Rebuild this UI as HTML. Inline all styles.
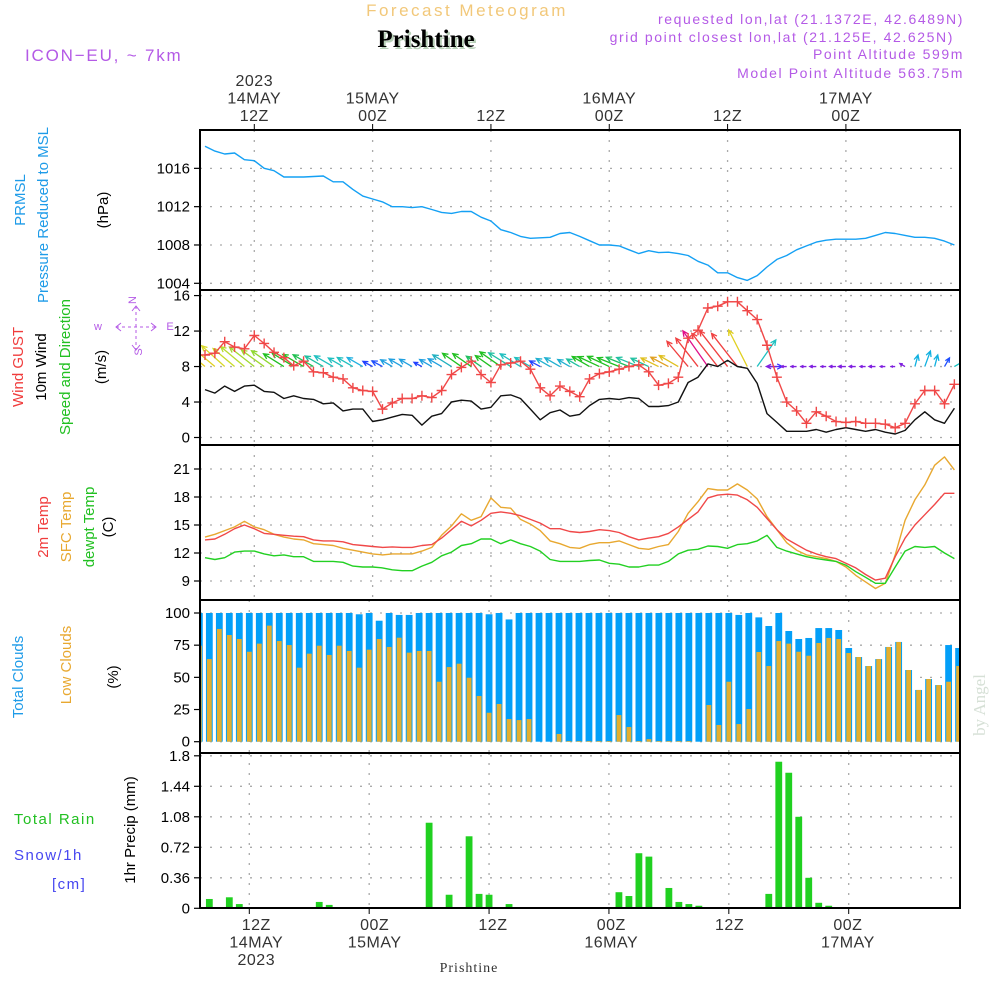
<!DOCTYPE html>
<html><head><meta charset="utf-8"><style>
body{margin:0;background:#fff;}
svg{display:block;font-family:"Liberation Sans",sans-serif;}
</style></head><body>
<svg id="chart" width="1000" height="1000" viewBox="0 0 1000 1000" xmlns="http://www.w3.org/2000/svg">
<rect width="1000" height="1000" fill="#fff"/>
<g id="hdr">
<text x="467" y="16" text-anchor="middle" fill="#f2c87a" font-size="17" letter-spacing="2.5">Forecast Meteogram</text>
<text x="428" y="49" text-anchor="middle" fill="#b8d0b8" font-size="25" font-weight="bold" font-family="Liberation Serif,serif">Prishtine</text>
<text x="426" y="47" text-anchor="middle" fill="#000" font-size="25" font-weight="bold" font-family="Liberation Serif,serif">Prishtine</text>
<text x="25" y="61" fill="#b45ae6" font-size="17" letter-spacing="1.8">ICON−EU, ~ 7km</text>
<g fill="#b45ae6" font-size="14" letter-spacing="1.6" text-anchor="end">
<text x="964" y="24">requested lon,lat (21.1372E, 42.6489N)</text>
<text x="954" y="42">grid point closest lon,lat (21.125E, 42.625N)</text>
<text x="964" y="59">Point Altitude 599m</text>
<text x="964" y="78">Model Point Altitude 563.75m</text>
</g>
</g>
<g id="grid"></g>
<g id="marks"></g>
<g id="axes"></g>
<g id="labels">
<g font-size="15" text-anchor="middle">
<text transform="translate(25,200) rotate(-90)" fill="#1e9be8">PRMSL</text>
<text transform="translate(48,215) rotate(-90)" fill="#1e9be8">Pressure Reduced to MSL</text>
<text transform="translate(108,210) rotate(-90)" fill="#000">(hPa)</text>
<text transform="translate(23,367) rotate(-90)" fill="#f03c3c">Wind GUST</text>
<text transform="translate(46,367) rotate(-90)" fill="#000">10m Wind</text>
<text transform="translate(70,367) rotate(-90)" fill="#22c022">Speed and Direction</text>
<text transform="translate(106,367) rotate(-90)" fill="#000">(m/s)</text>
<text transform="translate(48,527) rotate(-90)" fill="#f03c3c">2m Temp</text>
<text transform="translate(71,527) rotate(-90)" fill="#e8a830">SFC Temp</text>
<text transform="translate(94,527) rotate(-90)" fill="#22c022">dewpt Temp</text>
<text transform="translate(113,527) rotate(-90)" fill="#000">(C)</text>
<text transform="translate(23,677) rotate(-90)" fill="#1e9be8">Total Clouds</text>
<text transform="translate(71,665) rotate(-90)" fill="#e8a830">Low Clouds</text>
<text transform="translate(118,677) rotate(-90)" fill="#000">(%)</text>
<text transform="translate(135,830) rotate(-90)" fill="#000">1hr Precip (mm)</text>
</g>
<g font-size="15" letter-spacing="1.5">
<text x="14" y="824" fill="#22c022">Total  Rain</text>
<text x="14" y="860" fill="#4646f0">Snow/1h</text>
<text x="52" y="889" fill="#4646f0">[cm]</text>
</g>
<g fill="#b45ae6" font-size="11" stroke="#b45ae6">
<text x="136" y="300" text-anchor="middle" transform="rotate(-90 136 300)" stroke="none">N</text>
<text x="98" y="330" text-anchor="middle" stroke="none">w</text>
<text x="170" y="330" text-anchor="middle" stroke="none">E</text>
<text x="136" y="358" text-anchor="middle" transform="rotate(-90 136 352)" stroke="none">S</text>
<line x1="136" y1="306" x2="136" y2="350" stroke-dasharray="3,3"/>
<line x1="116" y1="327" x2="156" y2="327" stroke-dasharray="3,3"/>
<path d="M121,323L116,327L121,331M151,323L156,327L151,331M132,311L136,306L140,311M132,345L136,350L140,345" fill="none"/>
</g>
<text transform="translate(985,705) rotate(-90)" fill="#d6e0d6" font-size="17" font-family="Liberation Serif,serif" text-anchor="middle">by Angel</text>
<text x="469" y="972" fill="#333" font-size="14" font-family="Liberation Serif,serif" text-anchor="middle" letter-spacing="1">Prishtine</text>
</g>
</svg>
<script>
// ---------- data (hourly, 07Z 14MAY .. 11Z 17MAY) ----------
const hours = 77;
const pressure = [1018.3,1017.8,1017.5,1017.6,1016.9,1016.8,1016.0,1015.75,1015.1,1015.1,1015.1,1015.15,1015.2,1014.6,1014.6,1013.8,1013.1,1012.8,1012.5,1012.0,1012.0,1011.9,1012.0,1011.7,1011.4,1011.3,1011.5,1011.5,1010.9,1010.5,1009.6,1009.3,1008.9,1008.7,1008.75,1008.8,1009.2,1009.3,1008.9,1008.45,1008.0,1008.0,1007.9,1007.5,1007.1,1007.4,1007.2,1007.25,1007.1,1006.9,1006.3,1005.9,1005.1,1005.1,1004.6,1004.3,1004.8,1005.7,1006.5,1006.9,1007.5,1007.9,1008.3,1008.5,1008.6,1008.6,1008.6,1008.7,1009.0,1009.3,1009.2,1009.0,1008.8,1008.8,1008.7,1008.4,1008.0];
const gust = [9.3,9.5,10.8,10.2,10.0,11.5,10.6,9.6,9.0,8.1,8.6,7.4,7.3,6.8,6.6,5.6,5.3,5.2,3.2,3.9,4.4,4.4,4.7,4.5,5.3,7.1,7.9,8.6,7.1,6.2,8.2,8.4,8.6,7.7,5.6,4.7,5.8,5.2,4.6,6.6,7.2,7.4,7.7,8.0,8.2,7.4,5.9,6.1,6.8,11.2,12.1,14.6,14.8,15.3,15.3,14.3,13.3,10.4,6.8,4.0,3.0,1.6,2.9,2.4,1.8,1.7,1.8,1.6,1.6,1.5,1.1,1.6,3.8,5.3,5.3,3.8,6.0];
const wind = [5.4,5.0,5.8,5.2,5.8,5.9,5.2,5.1,4.4,4.7,4.4,4.3,3.8,3.9,3.0,3.2,3.2,1.8,2.0,2.3,2.6,2.5,1.4,2.4,2.7,4.0,4.2,4.1,3.2,3.4,4.7,4.8,4.4,3.2,2.0,2.8,3.1,2.4,2.6,3.6,4.3,4.4,4.3,4.5,4.4,3.5,3.5,3.6,4.0,6.2,6.8,8.3,8.0,8.7,8.0,7.8,6.1,2.7,1.7,0.7,0.7,0.7,0.9,0.6,0.9,1.1,0.9,0.7,0.9,0.6,0.4,0.8,2.0,2.9,2.0,1.6,3.3];
const windDir = [310,310,312,310,310,308,306,305,302,302,300,300,300,300,300,300,300,298,298,300,300,300,298,300,300,302,305,305,305,305,305,302,302,300,298,300,300,300,300,300,295,295,292,292,292,295,296,298,300,320,322,325,322,322,322,333,35,90,270,270,270,270,270,270,270,270,270,270,270,270,270,300,15,20,15,30,60];
const windColor = ["#e8d020","#e0d020","#d8d828","#c8dc28","#b8dc30","#a0d830","#a0d830","#90d830","#20c020","#20c020","#20c020","#20c050","#20c0a0","#20c0c0","#20c0c0","#20c0c0","#20b0e0","#2040ff","#2050ff","#20a0e0","#20a0e0","#20a0e0","#2040ff","#20a0e0","#20a0e0","#20b0c0","#20c020","#20c020","#20c060","#20c020","#20c020","#20c0a0","#20c0c0","#20c0c0","#2040ff","#20b0d0","#20b0d0","#20b0d0","#20c0a0","#20c020","#20c020","#20c020","#20c020","#20c060","#20c0a0","#20c0a0","#e0c020","#e0a020","#e0c020","#f04040","#f04040","#e0108a","#f04040","#f04040","#f04040","#e0d020","#20c0c0","#4030ff","#8020e0","#8020e0","#8020e0","#8020e0","#8020e0","#8020e0","#8020e0","#8020e0","#8020e0","#8020e0","#8020e0","#8020e0","#8020e0","#8020e0","#10b0e0","#10b0e0","#10b0e0","#2050ff","#10c0c0"];
const temp2m = [13.4,13.5,14.0,14.6,15.0,14.6,14.1,14.0,13.9,13.8,13.75,13.4,13.3,13.3,13.2,12.9,12.8,12.7,12.6,12.65,12.6,12.6,12.8,12.9,13.6,14.5,15.4,14.9,15.5,16.25,16.4,16.25,16.0,15.6,15.2,14.6,14.6,14.3,14.2,14.3,14.5,14.4,14.2,13.75,13.4,13.6,13.75,14.1,14.8,15.6,16.4,17.9,18.2,18.3,18.2,17.7,16.9,15.7,14.5,13.5,12.9,12.3,11.9,11.6,11.4,10.9,10.4,9.7,9.1,9.3,11.6,13.6,15.0,16.1,17.2,18.4,18.4];
const sfcTemp = [13.7,14.0,14.4,14.8,15.4,14.8,14.5,14.0,13.7,13.5,13.4,13.0,12.9,12.8,12.5,12.3,12.1,11.9,11.8,11.9,11.9,11.9,12.2,12.6,13.9,14.9,16.2,15.5,15.9,17.9,16.9,16.8,15.6,15.1,14.4,13.3,13.0,12.6,12.5,12.9,13.1,13.1,13.3,12.9,12.5,12.4,12.7,12.9,14.3,16.25,17.5,18.9,18.75,18.75,19.4,18.75,17.8,15.9,14.5,13.1,12.3,11.8,11.6,11.4,11.1,10.5,9.6,8.9,8.2,8.75,11.8,15.5,17.7,19.3,21.4,22.3,20.9];
const dewpt = [11.5,11.3,11.5,12.1,12.2,12.2,11.9,11.7,11.8,11.6,11.6,11.1,11.1,11.1,11.0,10.6,10.5,10.5,10.4,10.2,10.1,10.1,10.6,11.0,11.7,12.1,12.8,13.0,13.5,13.5,13.0,13.4,13.0,12.7,12.2,11.3,11.1,11.1,11.1,11.2,11.25,10.9,10.8,10.5,10.5,10.7,10.7,11.1,11.9,12.3,12.4,12.75,12.7,12.5,12.9,13.0,13.3,13.9,12.6,12.2,11.9,11.6,11.4,11.25,11.1,10.7,10.0,9.4,8.75,8.75,10.5,12.2,12.7,12.6,12.7,12.0,11.4];
const totalClouds = [100,100,100,100,100,100,100,100,100,100,100,100,100,100,100,100,99,100,94,100,98.5,98.5,100,100,100,100,100,100,100,99,100,95,100,100,100,100,100,100,100,100,100,100,100,100,100,100,100,100,100,100,100,100,100,100,98.5,100,96.6,89.9,100,86,79.8,80.6,88.3,88.3,86.8,72.8,65.8,58.8,64.2,73.6,77.5,55.7,40.2,48.7,44.0,75.1,72.8];
const lowClouds = [74.6,64.2,87.6,82.9,79.8,69.9,76.2,90.2,78.2,75.1,57.5,68.4,74.6,67.4,74.6,70.5,57.5,71.5,79.8,73.6,80.8,69.2,70.5,70.5,46.6,58.0,60.6,49.7,35.5,22.5,29.3,17.6,16.8,17.6,0,0,6.0,0.5,0.5,0.5,0.5,0.5,20.7,11.4,0.5,2,0.5,0.5,0.5,0.5,0,28.5,13,46.6,13.7,25.4,69.7,58.8,78.2,76.2,69.9,66.8,76.7,80.6,79.8,68.9,65.8,58.8,64.2,73.6,77.5,55.7,40.2,48.7,44.0,46.6,58.8];
const precip = [0,0.11,0,0.13,0.05,0,0,0,0,0,0,0,0.075,0.04,0,0,0,0,0,0,0,0,0,1.01,0,0.16,0.015,0.85,0.17,0.16,0,0.05,0,0,0,0,0,0,0,0,0,0,0.19,0.145,0.65,0.61,0,0.24,0.075,0.05,0.03,0,0,0,0,0,0,0.17,1.73,1.60,1.08,0.36,0.065,0.03,0,0,0,0,0,0,0,0,0,0,0,0,0.01];
const pTicks = [1004,1008,1012,1016];
const wTicks = [0,4,8,12,16];
const tTicks = [9,12,15,18,21];
const cTicks = [0,25,50,75,100];
const rTicks = ["0","0.36","0.72","1.08","1.44","1.8"];
// time ticks: hour index (from 07Z 14MAY) and labels
const timeTicks = [5,17,29,41,53,65];
const topLabels = [["2023","14MAY","12Z"],["15MAY","00Z"],["12Z"],["16MAY","00Z"],["12Z"],["17MAY","00Z"]];
const botLabels = [["12Z","14MAY","2023"],["00Z","15MAY"],["12Z"],["00Z","16MAY"],["12Z"],["00Z","17MAY"]];

// ---------- scales ----------
const X0=200, X1=960;
const xL = i => 254.3 + 9.86*(i-5);   // upper panels
const xB = i => 249.3 + 9.99*(i-5);   // lower (bar) panels
const yP = v => 283.3 - (v-1004)*9.58;
const yW = v => 437.5 - v*8.87;
const yT = v => 445 + (72 + (21-v)*28)/3;
const yC = v => 741.7 - v*1.287;
const yR = v => 908.3 - v/1.8*152.5;
const panels = [[130,290],[290,445],[445,600],[600,753],[753,908]];

const NS="http://www.w3.org/2000/svg";
function mk(tag, parent, attrs){const e=document.createElementNS(NS,tag);for(const k in attrs)e.setAttribute(k,attrs[k]);parent.appendChild(e);return e;}
const gGrid=document.getElementById('grid'), gM=document.getElementById('marks'), gA=document.getElementById('axes');

// grid
function hgrid(ys){ys.forEach(y=>{const l=mk('line',gGrid,{x1:X0,x2:X1,y1:y,y2:y,stroke:'#aaa','stroke-width':1.3,'stroke-dasharray':'2,8'});

});}
hgrid(pTicks.map(yP)); hgrid(wTicks.map(yW)); hgrid(tTicks.map(yT)); hgrid(cTicks.map(yC)); hgrid(rTicks.map(t=>yR(+t)));
panels.forEach((p,pi)=>{timeTicks.forEach(t=>{const x=pi<3?xL(t):xB(t);
const l=mk('line',gGrid,{x1:x,x2:x,y1:p[0],y2:p[1],stroke:'#aaa','stroke-width':1.3,'stroke-dasharray':'2,8'});

});});

// clip
const clip=mk('clipPath',gM,{id:'cp'}); mk('rect',clip,{x:X0,y:100,width:X1-X0,height:850});
const gBars=mk('g',gM,{'clip-path':'url(#cp)'});


for(let i=0;i<hours;i++){
  const r=mk('rect',gBars,{x:xB(i)-3.4,y:yC(totalClouds[i]),width:6.8,height:yC(0)-yC(totalClouds[i]),fill:'#039ff8'});
  
  
  const o=mk('rect',gBars,{x:xB(i)-2.4,y:yC(lowClouds[i]),width:4.8,height:yC(0)-yC(lowClouds[i]),fill:'#e4ae2e'});
  
  
  if(precip[i]>0){const b=mk('rect',gBars,{x:xB(i)-3.4,y:yR(precip[i]),width:6.8,height:yR(0)-yR(precip[i]),fill:'#20d020'});
  
  }
}
mk('line',gBars,{x1:X0,x2:X1,y1:yR(0)-0.5,y2:yR(0)-0.5,stroke:'#666','stroke-dasharray':'3,3'});

// lines
const gL=mk('g',gM,{'clip-path':'url(#cp)'});


function poly(arr, ys, col, name){const pts=arr.map((v,i)=>xL(i).toFixed(1)+','+ys(v).toFixed(1)).join(' ');
const p=mk('polyline',gL,{points:pts,fill:'none',stroke:col,'stroke-width':1.4,'stroke-linejoin':'round'});

}
// wind arrows
windDir.forEach((d,i)=>{const L=5*wind[i]+2, a=d*Math.PI/180;
const x0=xL(i), y0=yW(8), x1=x0+L*Math.sin(a), y1=y0-L*Math.cos(a);
const ang=Math.atan2(y1-y0,x1-x0), h=Math.min(6,L*0.5);
const dd=`M${x0},${y0}L${x1},${y1}M${x1-h*Math.cos(ang-0.45)},${y1-h*Math.sin(ang-0.45)}L${x1},${y1}L${x1-h*Math.cos(ang+0.45)},${y1-h*Math.sin(ang+0.45)}`;
const p=mk('path',gL,{d:dd,stroke:windColor[i],'stroke-width':1.3,fill:'none'});

});
poly(pressure,yP,'#14a0f4','pressure-line');
poly(wind,yW,'#111','wind-speed-line');
poly(gust,yW,'#f04848','gust-line');
poly(sfcTemp,yT,'#e8a830','sfc-temp-line');
poly(temp2m,yT,'#f04848','temp-2m-line');
poly(dewpt,yT,'#22d022','dewpoint-line');
gust.forEach((v,i)=>{const x=xL(i),y=yW(v);
const m=mk('path',gL,{d:`M${x-5},${y}H${x+5}M${x},${y-5}V${y+5}`,stroke:'#f04848','stroke-width':1.4});

});

// axes / frame
panels.forEach(p=>{const r=mk('rect',gA,{x:X0,y:p[0],width:X1-X0,height:p[1]-p[0],fill:'none',stroke:'#000','stroke-width':2});

});
function yticks(vals, ys, lbls){vals.forEach((v,k)=>{const y=ys(+v);
mk('line',gA,{x1:X0-6,x2:X0,y1:y,y2:y,stroke:'#000','stroke-width':1.2});
const t=mk('text',gA,{x:X0-10,y:y+5,'text-anchor':'end','font-size':15,fill:'#000'});
t.textContent=lbls?lbls[k]:v;

});}
yticks(pTicks,yP); yticks(wTicks,yW); yticks(tTicks,yT); yticks(cTicks,yC); yticks(rTicks,yR,rTicks);
timeTicks.forEach((t,k)=>{const x=xL(t);
mk('line',gA,{x1:x,x2:x,y1:124,y2:130,stroke:'#000'});
const lines=topLabels[k];
lines.forEach((s,j)=>{const tx=mk('text',gA,{x:x,y:127-6-(lines.length-1-j)*17.5,'text-anchor':'middle','font-size':16,fill:'#333','letter-spacing':0.5});
tx.textContent=s;

});
const xb=xL(t)+2;
mk('line',gA,{x1:xB(t),x2:xB(t),y1:908,y2:914,stroke:'#000'});
botLabels[k].forEach((s,j)=>{const tx=mk('text',gA,{x:xb,y:930+j*17.5,'text-anchor':'middle','font-size':16,fill:'#333','letter-spacing':0.5});
tx.textContent=s;

});
});
</script>
</body></html>
